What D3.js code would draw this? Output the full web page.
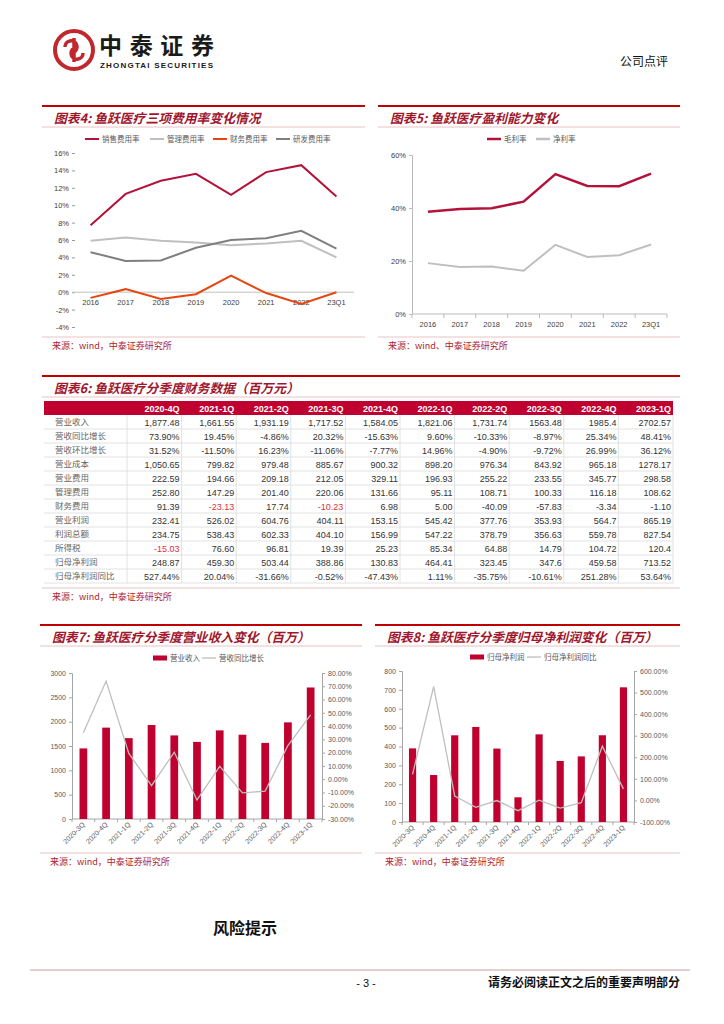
<!DOCTYPE html>
<html>
<head>
<meta charset="utf-8">
<script src="https://cdn.jsdelivr.net/npm/d3@7"></script>
<style>
  body { margin: 0; background: #fff; }
  text { font-family: "Noto Sans CJK SC", "Liberation Sans", sans-serif; }
  .num { font-family: "Liberation Sans", Arial, sans-serif; }
</style>
</head>
<body>
<script>
// ---- data ----
const years = ["2016", "2017", "2018", "2019", "2020", "2021", "2022", "23Q1"];
const sellRate = [7.7, 11.3, 12.8, 13.6, 11.2, 13.8, 14.6, 11.0];
const mgmtRate = [5.9, 6.3, 5.9, 5.7, 5.4, 5.6, 5.9, 4.0];
const finRate = [-0.65, 0.35, -0.77, -0.23, 1.9, -0.1, -1.34, 0.0];
const rdRate = [4.6, 3.6, 3.65, 5.1, 6.0, 6.2, 7.05, 5.0];

const grossMargin = [38.6, 39.6, 39.9, 42.4, 52.8, 48.3, 48.2, 53.0];
const netMargin = [19.2, 17.7, 17.9, 16.3, 26.1, 21.5, 22.2, 26.2];

const tableCols = ["2020-4Q", "2021-1Q", "2021-2Q", "2021-3Q", "2021-4Q", "2022-1Q", "2022-2Q", "2022-3Q", "2022-4Q", "2023-1Q"];
const tableRows = ["营业收入", "营收同比增长", "营收环比增长", "营业成本", "营业费用", "管理费用", "财务费用", "营业利润", "利润总额", "所得税", "归母净利润", "归母净利润同比"];
const tableVals = [
  ["1,877.48", "1,661.55", "1,931.19", "1,717.52", "1,584.05", "1,821.06", "1,731.74", "1563.48", "1985.4", "2702.57"],
  ["73.90%", "19.45%", "-4.86%", "20.32%", "-15.63%", "9.60%", "-10.33%", "-8.97%", "25.34%", "48.41%"],
  ["31.52%", "-11.50%", "16.23%", "-11.06%", "-7.77%", "14.96%", "-4.90%", "-9.72%", "26.99%", "36.12%"],
  ["1,050.65", "799.82", "979.48", "885.67", "900.32", "898.20", "976.34", "843.92", "965.18", "1278.17"],
  ["222.59", "194.66", "209.18", "212.05", "329.11", "196.93", "255.22", "233.55", "345.77", "298.58"],
  ["252.80", "147.29", "201.40", "220.06", "131.66", "95.11", "108.71", "100.33", "116.18", "108.62"],
  ["91.39", "-23.13", "17.74", "-10.23", "6.98", "5.00", "-40.09", "-57.83", "-3.34", "-1.10"],
  ["232.41", "526.02", "604.76", "404.11", "153.15", "545.42", "377.76", "353.93", "564.7", "865.19"],
  ["234.75", "538.43", "602.33", "404.10", "156.99", "547.22", "378.79", "356.63", "559.78", "827.54"],
  ["-15.03", "76.60", "96.81", "19.39", "25.23", "85.34", "64.88", "14.79", "104.72", "120.4"],
  ["248.87", "459.30", "503.44", "388.86", "130.83", "464.41", "323.45", "347.6", "459.58", "713.52"],
  ["527.44%", "20.04%", "-31.66%", "-0.52%", "-47.43%", "1.11%", "-35.75%", "-10.61%", "251.28%", "53.64%"]
];

const quarters = ["2020-3Q", "2020-4Q", "2021-1Q", "2021-2Q", "2021-3Q", "2021-4Q", "2022-1Q", "2022-2Q", "2022-3Q", "2022-4Q", "2023-1Q"];
const revenue = [1450, 1877.48, 1661.55, 1931.19, 1717.52, 1584.05, 1821.06, 1731.74, 1563.48, 1985.4, 2702.57];
const revYoY = [35, 73.90, 19.45, -4.86, 20.32, -15.63, 9.60, -10.33, -8.97, 25.34, 48.41];
const netProfit = [390, 248.87, 459.30, 503.44, 388.86, 130.83, 464.41, 323.45, 347.6, 459.58, 713.52];
const npYoY = [121, 527.44, 20.04, -31.66, -0.52, -47.43, 1.11, -35.75, -10.61, 251.28, 53.64];

// ---- colours ----
const red = "#c0002f";
const darkRed = "#b3133b";
const lightGray = "#bfbfbf";
const midGray = "#7f7f7f";
const orange = "#e6460f";
const titleCol = "#a0162c";
const srcCol = "#b0232e";
const pink = "#e8c4c4";

const svg = d3.select("body").append("svg")
  .attr("width", 724).attr("height", 1024);

// ---- header ----
const logo = svg.append("g").attr("transform", "translate(74,50)");
logo.append("circle").attr("r", 19).attr("fill", "none").attr("stroke", "#c1272d").attr("stroke-width", 4);
logo.append("path").attr("d", "M-9,-3 a6,6 0 1,1 9,5 L0,12 M9,3 a6,6 0 1,1 -9,-5 L0,-12")
  .attr("fill", "none").attr("stroke", "#c1272d").attr("stroke-width", 3.5);
svg.append("text").attr("x", 99).attr("y", 54).attr("font-size", 23).attr("font-weight", "bold")
  .attr("fill", "#1a1a1a").attr("textLength", 115).text("中泰证券");
svg.append("text").attr("class", "num").attr("x", 100).attr("y", 67.5).attr("font-size", 8).attr("font-weight", "bold")
  .attr("fill", "#1a1a1a").attr("textLength", 113).text("ZHONGTAI SECURITIES");
svg.append("text").attr("x", 668).attr("y", 66).attr("font-size", 12).attr("text-anchor", "end")
  .attr("fill", "#111").text("公司点评");

// ---- panel frame helper ----
function panel(x0, x1, yTop, title, ySrc, src) {
  svg.append("line").attr("x1", x0).attr("x2", x1).attr("y1", yTop).attr("y2", yTop)
    .attr("stroke", "#c00000").attr("stroke-width", 2);
  svg.append("text").attr("x", x0 + 12).attr("y", yTop + 17).attr("font-size", 12.8)
    .attr("font-weight", "bold").attr("font-style", "italic").attr("fill", titleCol).text(title);
  svg.append("line").attr("x1", x0).attr("x2", x1).attr("y1", yTop + 21).attr("y2", yTop + 21)
    .attr("stroke", pink).attr("stroke-width", 1);
  svg.append("line").attr("x1", x0).attr("x2", x1).attr("y1", ySrc).attr("y2", ySrc)
    .attr("stroke", pink).attr("stroke-width", 1);
  svg.append("text").attr("x", x0 + 10).attr("y", ySrc + 12).attr("font-size", 9)
    .attr("fill", srcCol).text(src);
}

function legend(items, y) {
  items.forEach(it => {
    if (it.type === "bar") {
      svg.append("rect").attr("x", it.x).attr("y", y - 2.5).attr("width", 14).attr("height", 5).attr("fill", it.color);
    } else {
      svg.append("line").attr("x1", it.x).attr("x2", it.x + 14).attr("y1", y).attr("y2", y)
        .attr("stroke", it.color).attr("stroke-width", it.w || 2);
    }
    svg.append("text").attr("x", it.x + 17).attr("y", y + 3).attr("font-size", 7.5)
      .attr("fill", "#595959").text(it.label);
  });
}

// ---- Chart 4 ----
panel(42, 365, 106, "图表4: 鱼跃医疗三项费用率变化情况", 337, "来源：wind，中泰证券研究所");
legend([
  { x: 85, label: "销售费用率", color: darkRed },
  { x: 150, label: "管理费用率", color: lightGray },
  { x: 213, label: "财务费用率", color: orange },
  { x: 276, label: "研发费用率", color: midGray }
], 139);
{
  const x = d3.scaleBand().domain(years).range([73, 354]);
  const y = d3.scaleLinear().domain([-4, 16]).range([327, 153]);
  const ya = svg.append("g").attr("transform", "translate(75,0)")
    .call(d3.axisLeft(y).tickValues(d3.range(-4, 17, 2)).tickSize(3).tickFormat(d => d + "%"));
  ya.select(".domain").remove();
  ya.selectAll("line").attr("stroke", "#999");
  ya.selectAll("text").attr("class", "num").attr("font-size", 7.5).attr("fill", "#404040");
  svg.append("line").attr("x1", 73).attr("x2", 354).attr("y1", y(0)).attr("y2", y(0))
    .attr("stroke", lightGray).attr("stroke-width", 1);
  svg.selectAll(".c4x").data(years).enter().append("text").attr("class", "num")
    .attr("x", d => x(d) + x.bandwidth() / 2).attr("y", y(0) + 13).attr("text-anchor", "middle")
    .attr("font-size", 7.5).attr("fill", "#404040").text(d => d);
  const line = d3.line().x((d, i) => x(years[i]) + x.bandwidth() / 2).y(d => y(d));
  [[mgmtRate, lightGray], [rdRate, midGray], [finRate, orange], [sellRate, darkRed]].forEach(([s, c]) => {
    svg.append("path").attr("d", line(s)).attr("fill", "none").attr("stroke", c).attr("stroke-width", 2);
  });
}

// ---- Chart 5 ----
panel(378, 680, 106, "图表5: 鱼跃医疗盈利能力变化", 337, "来源：wind、中泰证券研究所");
legend([
  { x: 487, label: "毛利率", color: darkRed, w: 2.5 },
  { x: 536, label: "净利率", color: lightGray, w: 2.5 }
], 139);
{
  const x = d3.scaleBand().domain(years).range([412, 667]);
  const y = d3.scaleLinear().domain([0, 60]).range([314, 155]);
  const ya = svg.append("g").attr("transform", "translate(412,0)")
    .call(d3.axisLeft(y).tickValues([0, 20, 40, 60]).tickSize(3).tickFormat(d => d + "%"));
  ya.select(".domain").attr("stroke", "#bbb");
  ya.selectAll("line").attr("stroke", "#bbb");
  ya.selectAll("text").attr("class", "num").attr("font-size", 7.5).attr("fill", "#404040");
  svg.append("line").attr("x1", 412).attr("x2", 667).attr("y1", 314).attr("y2", 314).attr("stroke", "#bbb");
  d3.range(years.length + 1).forEach(i => {
    const xx = 412 + i * x.step();
    svg.append("line").attr("x1", xx).attr("x2", xx).attr("y1", 314).attr("y2", 318).attr("stroke", "#bbb");
  });
  svg.selectAll(".c5x").data(years).enter().append("text").attr("class", "num")
    .attr("x", d => x(d) + x.bandwidth() / 2).attr("y", 327).attr("text-anchor", "middle")
    .attr("font-size", 7.5).attr("fill", "#404040").text(d => d);
  const line = d3.line().x((d, i) => x(years[i]) + x.bandwidth() / 2).y(d => y(d));
  svg.append("path").attr("d", line(netMargin)).attr("fill", "none").attr("stroke", lightGray).attr("stroke-width", 2);
  svg.append("path").attr("d", line(grossMargin)).attr("fill", "none").attr("stroke", darkRed).attr("stroke-width", 2.5);
}

// ---- Chart 6 table ----
panel(42, 680, 376, "图表6: 鱼跃医疗分季度财务数据（百万元）", 588, "来源：wind，中泰证券研究所");
{
  const cx = d3.scaleBand().domain(tableCols).range([127, 673]);
  const ry = d3.scaleBand().domain(tableRows).range([415, 583]);
  svg.append("rect").attr("x", 44).attr("y", 401).attr("width", 629).attr("height", 14).attr("fill", red);
  svg.selectAll(".th").data(tableCols).enter().append("text").attr("class", "num")
    .attr("x", d => cx(d) + cx.bandwidth() - 2).attr("y", 411.5).attr("text-anchor", "end")
    .attr("font-size", 9).attr("font-weight", "bold").attr("fill", "#fff").text(d => d);
  tableRows.forEach((r, i) => {
    const yy = ry(r);
    svg.append("line").attr("x1", 44).attr("x2", 673).attr("y1", yy + ry.bandwidth()).attr("y2", yy + ry.bandwidth())
      .attr("stroke", "#e2e2e2");
    svg.append("text").attr("x", 55).attr("y", yy + 10).attr("font-size", 8.5).attr("fill", "#666").text(r);
    tableVals[i].forEach((v, j) => {
      const isRed = v.startsWith("-") && !v.endsWith("%") && j < 4;
      svg.append("text").attr("class", "num").attr("x", cx(tableCols[j]) + cx.bandwidth() - 2).attr("y", yy + 10.5)
        .attr("text-anchor", "end").attr("font-size", 9).attr("fill", isRed ? "#e0303a" : "#333").text(v);
    });
  });
  [127].concat(tableCols.map(c => cx(c) + cx.bandwidth())).forEach(xx => {
    svg.append("line").attr("x1", xx).attr("x2", xx).attr("y1", 415).attr("y2", 583).attr("stroke", "#e2e2e2");
  });
}

// ---- dual axis bar + line chart helper ----
function dualChart(o) {
  const x = d3.scaleBand().domain(quarters).range([o.x0, o.x1]);
  const yl = d3.scaleLinear().domain(o.lDom).range([o.yb, o.yt]);
  const yr = d3.scaleLinear().domain(o.rDom).range([o.yb, o.yt]);
  const al = svg.append("g").attr("transform", `translate(${o.x0},0)`)
    .call(d3.axisLeft(yl).tickValues(d3.range(o.lDom[0], o.lDom[1] + 1, o.lStep)).tickSize(3)
      .tickFormat(d3.format("d")));
  const ar = svg.append("g").attr("transform", `translate(${o.x1},0)`)
    .call(d3.axisRight(yr).tickValues(d3.range(o.rDom[0], o.rDom[1] + 1, o.rStep)).tickSize(3)
      .tickFormat(d => d.toFixed(2) + "%"));
  [al, ar].forEach(a => {
    a.selectAll("path,line").attr("stroke", "#a6a6a6");
    a.selectAll("text").attr("class", "num").attr("font-size", 7).attr("fill", "#595959");
  });
  svg.append("line").attr("x1", o.x0).attr("x2", o.x1).attr("y1", o.yb).attr("y2", o.yb).attr("stroke", "#a6a6a6");
  d3.range(quarters.length + 1).forEach(i => {
    const xx = o.x0 + i * x.step();
    svg.append("line").attr("x1", xx).attr("x2", xx).attr("y1", o.yb).attr("y2", o.yb + 3).attr("stroke", "#a6a6a6");
  });
  const bw = x.bandwidth() * 0.34;
  svg.selectAll(null).data(o.bars).enter().append("rect")
    .attr("x", (d, i) => x(quarters[i]) + (x.bandwidth() - bw) / 2)
    .attr("y", d => yl(d)).attr("width", bw).attr("height", d => o.yb - yl(d)).attr("fill", red);
  const line = d3.line().x((d, i) => x(quarters[i]) + x.bandwidth() / 2).y(d => yr(d));
  svg.append("path").attr("d", line(o.line)).attr("fill", "none").attr("stroke", lightGray).attr("stroke-width", 1.3);
  svg.selectAll(null).data(quarters).enter().append("text").attr("class", "num")
    .attr("transform", d => `translate(${x(d) + x.bandwidth() / 2 + 2},${o.yb + 6}) rotate(-45)`)
    .attr("text-anchor", "end").attr("font-size", 7).attr("fill", "#595959").text(d => d);
}

// ---- Chart 7 ----
panel(40, 362, 625, "图表7: 鱼跃医疗分季度营业收入变化（百万）", 853, "来源：wind，中泰证券研究所");
legend([
  { x: 153, label: "营业收入", color: red, type: "bar" },
  { x: 202, label: "营收同比增长", color: lightGray, w: 1.3 }
], 658);
dualChart({ x0: 72, x1: 322, yt: 673, yb: 819, lDom: [0, 3000], lStep: 500, rDom: [-30, 80], rStep: 10,
  bars: revenue, line: revYoY });

// ---- Chart 8 ----
panel(375, 680, 625, "图表8: 鱼跃医疗分季度归母净利润变化（百万）", 853, "来源：wind，中泰证券研究所");
legend([
  { x: 470, label: "归母净利润", color: red, type: "bar" },
  { x: 527, label: "归母净利润同比", color: lightGray, w: 1.3 }
], 657);
dualChart({ x0: 402, x1: 634, yt: 671, yb: 822, lDom: [0, 800], lStep: 100, rDom: [-100, 600], rStep: 100,
  bars: netProfit, line: npYoY });

// ---- footer ----
svg.append("text").attr("x", 213).attr("y", 934).attr("font-size", 16).attr("font-weight", "bold")
  .attr("fill", "#111").text("风险提示");
svg.append("line").attr("x1", 30).attr("x2", 690).attr("y1", 970).attr("y2", 970)
  .attr("stroke", "#d8c0bc").attr("stroke-width", 1.5);
svg.append("text").attr("class", "num").attr("x", 366).attr("y", 987).attr("font-size", 11)
  .attr("text-anchor", "middle").attr("fill", "#111").text("- 3 -");
svg.append("text").attr("x", 680).attr("y", 987).attr("font-size", 12).attr("font-weight", "bold")
  .attr("text-anchor", "end").attr("fill", "#111").text("请务必阅读正文之后的重要声明部分");
</script>
</body>
</html>
